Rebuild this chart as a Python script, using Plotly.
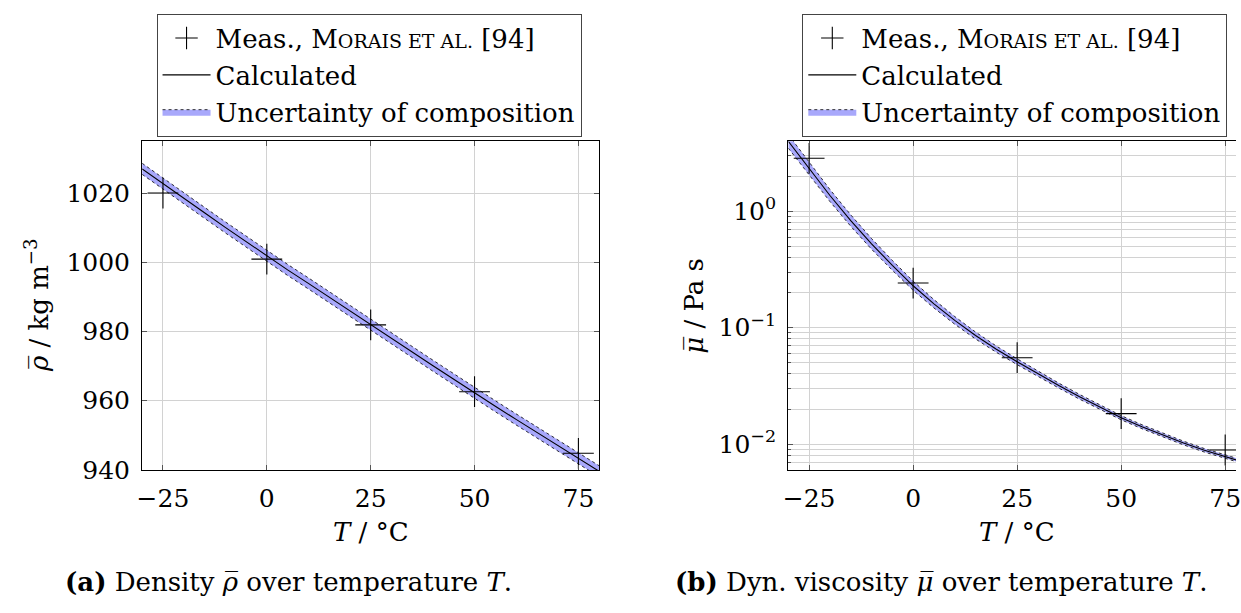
import math
import plotly.graph_objects as go

# ---------------- data ----------------
T_meas = [-25, 0, 25, 50, 75]
rho_meas = [1020.0, 1000.9, 981.9, 962.6, 944.8]
mu_meas = [2.85, 0.2416, 0.0552, 0.01828, 0.0089]

T_calc = [-30, -25, -20, -15, -10, -5, 0, 5, 10, 15, 20, 25, 30, 35, 40, 45, 50, 55, 60, 65, 70, 75, 80]
rho_calc = [1027.0, 1022.7, 1018.5, 1014.3, 1010.1, 1006.0, 1001.8, 997.8, 993.9, 989.9, 986.0, 982.0,
            978.1, 974.1, 970.1, 966.2, 962.2, 958.4, 954.6, 950.9, 947.1, 943.3, 939.6]
rho_upper = [1028.6, 1024.3, 1020.1, 1015.9, 1011.7, 1007.6, 1003.4, 999.4, 995.5, 991.5, 987.6, 983.6,
             979.7, 975.7, 971.7, 967.8, 963.8, 960.0, 956.2, 952.5, 948.7, 944.9, 941.2]
rho_lower = [1025.4, 1021.1, 1016.9, 1012.7, 1008.5, 1004.4, 1000.2, 996.2, 992.3, 988.3, 984.4, 980.4,
             976.5, 972.5, 968.5, 964.6, 960.6, 956.8, 953.0, 949.3, 945.5, 941.7, 938.0]

mu_calc = [3.98, 2.32, 1.365, 0.832, 0.525, 0.343, 0.229, 0.1603, 0.1155, 0.0856, 0.0653, 0.0510,
           0.0400, 0.0318, 0.0255, 0.0206, 0.01684, 0.01409, 0.01192, 0.01021, 0.00884, 0.00779, 0.00690]
mu_upper = [4.55, 2.64, 1.538, 0.931, 0.583, 0.378, 0.2506, 0.1742, 0.1246, 0.0917, 0.0695, 0.0540,
            0.0422, 0.0334, 0.0267, 0.0216, 0.01755, 0.01466, 0.01237, 0.01059, 0.00915, 0.00806, 0.00714]
mu_lower = [3.48, 2.05, 1.211, 0.743, 0.472, 0.311, 0.2094, 0.1476, 0.1070, 0.0799, 0.0614, 0.0481,
            0.0380, 0.0303, 0.0243, 0.0197, 0.01616, 0.01355, 0.01149, 0.00984, 0.00854, 0.00752, 0.00667]

x_ticks = [-25, 0, 25, 50, 75]
rho_ticks = [940, 960, 980, 1000, 1020]
mu_ticks = [0.01, 0.1, 1]
mu_ticktext = ["10<sup>−2</sup>", "10<sup>−1</sup>", "10<sup>0</sup>"]
mu_minor = [0.006, 0.007, 0.008, 0.009,
            0.02, 0.03, 0.04, 0.05, 0.06, 0.07, 0.08, 0.09,
            0.2, 0.3, 0.4, 0.5, 0.6, 0.7, 0.8, 0.9, 2, 3, 4]

# ---------------- style ----------------
W, H = 1241, 613
FONT = "DejaVu Serif"
FS = 26
TICK_FS = 25
GRID = "#d2d2d2"
BAND = "#a8a8fb"
LEG_NAME_MEAS = "Meas., M<span style='font-size:19px'>ORAIS ET AL.</span> [94]"


def px(x):
    return x / W


def py(y):
    return 1 - y / H


fig = go.Figure()


def add_series(xref, yref, legend, calc, upper, lower, meas):
    fig.add_trace(go.Scatter(x=T_calc, y=lower, xaxis=xref, yaxis=yref, mode="lines",
                             line=dict(color="black", width=0.8, dash="dot"),
                             showlegend=False, hoverinfo="skip", legend=legend))
    fig.add_trace(go.Scatter(x=T_calc, y=upper, xaxis=xref, yaxis=yref, mode="lines",
                             fill="tonexty", fillcolor=BAND,
                             line=dict(color="black", width=0.8, dash="dot"),
                             name="Uncertainty of composition", legend=legend, legendrank=3))
    fig.add_trace(go.Scatter(x=T_calc, y=calc, xaxis=xref, yaxis=yref, mode="lines",
                             line=dict(color="black", width=1.1),
                             name="Calculated", legend=legend, legendrank=2))
    fig.add_trace(go.Scatter(x=T_meas, y=meas, xaxis=xref, yaxis=yref, mode="markers",
                             marker=dict(symbol="cross-thin", size=22,
                                         line=dict(color="black", width=1.1)),
                             name=LEG_NAME_MEAS, legend=legend, legendrank=1))


add_series("x", "y", "legend", rho_calc, rho_upper, rho_lower, rho_meas)
add_series("x2", "y2", "legend2", mu_calc, mu_upper, mu_lower, mu_meas)

axis_common = dict(
    showgrid=True, gridcolor=GRID, gridwidth=1,
    showline=True, linecolor="black", linewidth=1.3,
    ticks="inside", ticklen=5, tickcolor="#555555", tickwidth=1,
    tickfont=dict(family=FONT, size=TICK_FS, color="black"),
    zeroline=False, ticklabelstandoff=6, ticklabeloverflow="allow",
)

top_px, bot_px = 144.7, 481.7
ydom = [py(bot_px), py(top_px)]

legend_common = dict(y=py(14), xanchor="center", yanchor="top",
                     bordercolor="#444444", borderwidth=1, bgcolor="white",
                     itemwidth=48,
                     font=dict(family=FONT, size=FS, color="black"), traceorder="normal")

fig.update_layout(
    width=W, height=H,
    margin=dict(l=0, r=0, t=0, b=0),
    paper_bgcolor="white", plot_bgcolor="white",
    font=dict(family=FONT, size=FS, color="black"),
    xaxis=dict(domain=[px(138.3), px(599.0)], range=[-30, 80], tickvals=x_ticks,
               mirror="ticks", anchor="y", **axis_common),
    yaxis=dict(domain=ydom, range=[940, 1035], tickvals=rho_ticks,
               mirror="ticks", anchor="x", **axis_common),
    xaxis2=dict(domain=[px(789.7), 1.0], range=[-30, 77.6], tickvals=x_ticks,
                mirror="ticks", anchor="y2", **axis_common),
    yaxis2=dict(domain=ydom, type="log", range=[math.log10(0.006), math.log10(4.0)],
                tickvals=mu_ticks, ticktext=mu_ticktext, mirror=False, anchor="x2",
                minor=dict(tickvals=mu_minor, showgrid=True, gridcolor=GRID, gridwidth=1,
                           ticks="inside", ticklen=3, tickcolor="#555555"),
                **axis_common),
    legend=dict(x=px(367), **legend_common),
    legend2=dict(x=px(1018), **legend_common),
    showlegend=True,
)

ann = [
    dict(x=px(369), y=py(545), text="<i>T</i> / °C"),
    dict(x=px(1020), y=py(545), text="<i>T</i> / °C"),
    dict(x=px(33), y=py(313), text="<i>ρ̅</i> / kg m<sup>−3</sup>", textangle=-90),
    dict(x=px(695), y=py(313), text="<i>μ̅</i> / Pa s", textangle=-90),
    dict(x=px(286), y=py(597), text="<b>(a)</b> Density <i>ρ̅</i> over temperature <i>T</i>."),
    dict(x=px(944), y=py(597), text="<b>(b)</b> Dyn. viscosity <i>μ̅</i> over temperature <i>T</i>."),
]
for a in ann:
    fig.add_annotation(xref="paper", yref="paper", showarrow=False,
                       xanchor="center", yanchor="middle",
                       font=dict(family=FONT, size=FS, color="black"), **a)

fig.write_html("out.html")
